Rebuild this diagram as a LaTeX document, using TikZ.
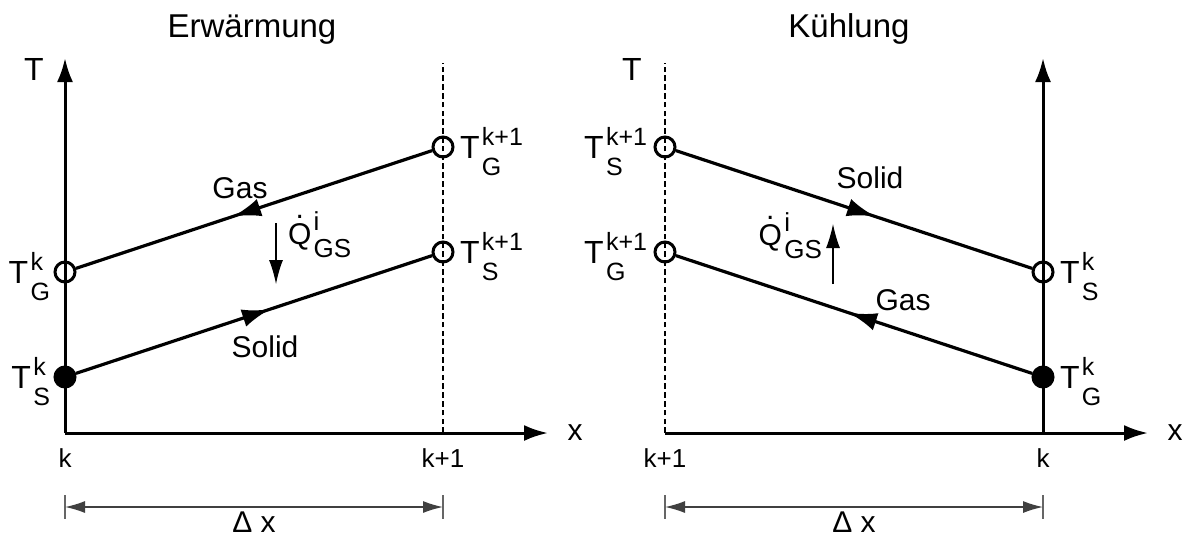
\documentclass[tikz,border=0pt]{standalone}
\usepackage{fontspec}
\setmainfont{Liberation Sans}
\usetikzlibrary{arrows.meta,decorations.markings}

\newsavebox\supbx
\newsavebox\subbx
\newcommand{\Tlab}[2]{%
  \sbox\supbx{\fontsize{12.5}{13}\selectfont #1}%
  \sbox\subbx{\fontsize{12.5}{13}\selectfont #2}%
  T\kern1.2pt\rlap{\raisebox{6.5pt}{\usebox\supbx}}\raisebox{-8.5pt}{\usebox\subbx}%
  \ifdim\wd\supbx>\wd\subbx\kern\dimexpr\wd\supbx-\wd\subbx\relax\fi}
\newcommand{\Qlab}{%
  \ooalign{Q\cr\hidewidth\raisebox{13pt}{.}\hidewidth\cr}%
  \kern1.2pt\rlap{\raisebox{7pt}{\fontsize{13}{13}\selectfont i}}%
  \raisebox{-6.5pt}{\fontsize{13}{13}\selectfont GS}}

\begin{document}
\begin{tikzpicture}[x=0.5pt,y=-0.5pt,
  every node/.style={inner sep=0pt, outer sep=0pt},
  axis/.style={line width=1.5pt, -{Latex[length=12pt,width=8pt]}},
  guide/.style={line width=1.4pt, dash pattern=on 2.8pt off 1.6pt},
  opn/.style={circle, draw, line width=1.5pt, minimum size=10pt, inner sep=0pt, outer sep=0.75pt},
  cls/.style={opn, fill=black},
  flow/.style={line width=1.6pt, postaction={decorate},
    decoration={markings, mark=at position #1 with {\arrow{Latex[length=14pt,width=9pt]}}}},
  qarrow/.style={line width=0.6pt, -{Latex[length=12pt,width=7pt]}},
  dimln/.style={line width=0.7pt, draw=black!75, {Latex[length=10pt,width=6pt]}-{Latex[length=10pt,width=6pt]}},
  tick/.style={line width=0.6pt, draw=black!60},
  ttl/.style={font=\fontsize{16.5}{18}\selectfont, anchor=base},
  lab/.style={font=\fontsize{16}{18}\selectfont},
  small/.style={font=\fontsize{13}{15}\selectfont, anchor=base},
  mid/.style={font=\fontsize{15}{17}\selectfont, anchor=base}
]
\useasboundingbox (0,0) rectangle (1186,537);

% ---------------- Left: Erwaermung ----------------
\node[ttl] (title1) at (252,37) {Erwärmung};
\coordinate (LO) at (65,433);
\coordinate (LY) at (65,58);
\coordinate (LX) at (548,433);
\coordinate (LDt) at (443,63);
\coordinate (LDb) at (443,433);
\draw[axis] (LO) -- (LY);
\draw[axis] (LO) -- (LX);
\draw[guide] (LDb) -- (LDt);
\node[lab, anchor=base] (LT) at (34,80) {T};
\node[mid] (Lx) at (575,440) {x};

\node[opn] (LG0) at (65,272) {};
\node[cls] (LS0) at (65,377) {};
\node[opn] (LG1) at (443,147) {};
\node[opn] (LS1) at (443,252) {};
\draw[flow=0.559] (LG1) -- (LG0);
\draw[flow=0.545] (LS0) -- (LS1);

\node[lab, anchor=base east] (LG0l) at (50,283) {\Tlab{k}{G}};
\node[lab, anchor=base east] (LS0l) at (50,388) {\Tlab{k}{S}};
\node[lab, anchor=base west] (LG1l) at (460,158) {\Tlab{k+1}{G}};
\node[lab, anchor=base west] (LS1l) at (460,263) {\Tlab{k+1}{S}};

\node[mid] (Lgas) at (240,198) {Gas};
\node[mid] (Lsolid) at (265,357) {Solid};

\coordinate (LQa) at (276,223);
\coordinate (LQb) at (276,284);
\draw[qarrow] (LQa) -- (LQb);
\node[mid, anchor=base west] (LQ) at (288,244) {\Qlab};

\node[small] (Lk0) at (65,467) {k};
\node[small] (Lk1) at (443,467) {k+1};

\coordinate (LDa) at (65,507);
\coordinate (LDe) at (443,507);
\coordinate (LTa1) at (65,495);
\coordinate (LTa2) at (65,519);
\coordinate (LTb1) at (443,495);
\coordinate (LTb2) at (443,519);
\draw[tick] (LTa1) -- (LTa2);
\draw[tick] (LTb1) -- (LTb2);
\draw[dimln] (LDa) -- (LDe);
\node[mid] (Ldx) at (254,532) {Δ x};

% ---------------- Right: Kuehlung ----------------
\node[ttl] (title2) at (849,37) {Kühlung};
\coordinate (RO) at (665,433);
\coordinate (RX) at (1148,433);
\coordinate (RA) at (1043,433);
\coordinate (RY) at (1043,58);
\coordinate (RDt) at (665,63);
\draw[axis] (RA) -- (RY);
\draw[axis] (RO) -- (RX);
\draw[guide] (RO) -- (RDt);
\node[lab, anchor=base] (RT) at (632,80) {T};
\node[mid] (Rx) at (1175,440) {x};

\node[opn] (RS1) at (665,147) {};
\node[opn] (RG1) at (665,252) {};
\node[opn] (RS0) at (1043,272) {};
\node[cls] (RG0) at (1043,377) {};
\draw[flow=0.559] (RS1) -- (RS0);
\draw[flow=0.514] (RG0) -- (RG1);

\node[lab, anchor=base east] (RS1l) at (647,158) {\Tlab{k+1}{S}};
\node[lab, anchor=base east] (RG1l) at (647,263) {\Tlab{k+1}{G}};
\node[lab, anchor=base west] (RS0l) at (1060,283) {\Tlab{k}{S}};
\node[lab, anchor=base west] (RG0l) at (1060,388) {\Tlab{k}{G}};

\node[mid] (Rsolid) at (870,188) {Solid};
\node[mid] (Rgas) at (903,310) {Gas};

\coordinate (RQa) at (833,284);
\coordinate (RQb) at (833,224);
\draw[qarrow] (RQa) -- (RQb);
\node[mid, anchor=base east] (RQ) at (822,245) {\Qlab};

\node[small] (Rk1) at (665,467) {k+1};
\node[small] (Rk0) at (1043,467) {k};

\coordinate (RDa) at (665,507);
\coordinate (RDe) at (1043,507);
\coordinate (RTa1) at (665,495);
\coordinate (RTa2) at (665,519);
\coordinate (RTb1) at (1043,495);
\coordinate (RTb2) at (1043,519);
\draw[tick] (RTa1) -- (RTa2);
\draw[tick] (RTb1) -- (RTb2);
\draw[dimln] (RDa) -- (RDe);
\node[mid] (Rdx) at (854,532) {Δ x};
\end{tikzpicture}
\end{document}
